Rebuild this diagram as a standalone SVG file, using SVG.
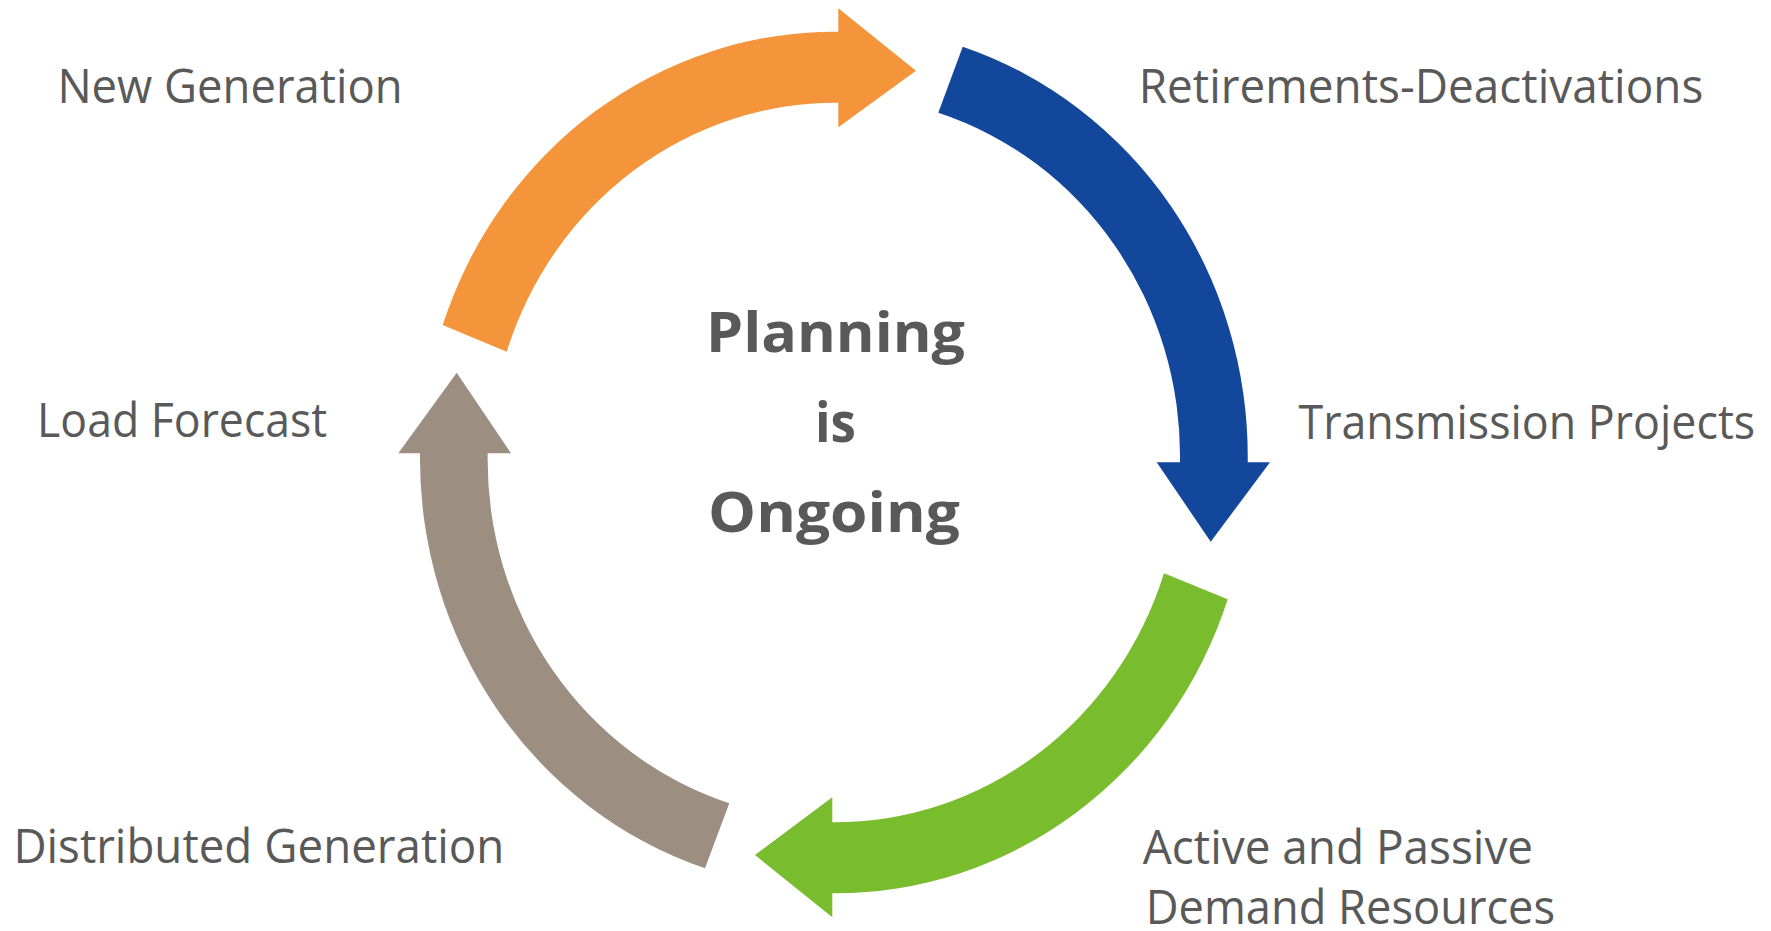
<svg xmlns="http://www.w3.org/2000/svg" width="1771" height="931" viewBox="0 0 1771 931">
<style>
.lbl{font-family:"Open Sans","Liberation Sans",sans-serif;font-size:47px;fill:#595959}
.ctr{font-family:"Open Sans","Liberation Sans",sans-serif;font-size:56px;font-weight:bold;fill:#595959;text-anchor:middle}
</style>
<rect width="1771" height="931" fill="#ffffff"/>
<g id="connectors">
<path id="arrow-orange" fill="#F4943B" d="M442.7,325 A414,431 0 0 1 838.3,31.7 L838.3,8.3 L916,70.7 L838.3,127.3 L838.3,102.7 A346,360 0 0 0 506.7,351.7 Z"/>
<path id="arrow-blue" fill="#13479C" d="M962.7,46.7 A414,431 0 0 1 1247.7,462.3 L1270,462.3 L1210.7,541.7 L1156.7,462.3 L1180,462.3 A346,360 0 0 0 938.3,112.7 Z"/>
<path id="arrow-green" fill="#79BC2D" d="M1227.7,599.3 A414,431 0 0 1 832.3,893.3 L832.3,917.3 L755,855 L832.3,797.3 L832.3,822.3 A346,360 0 0 0 1164,573.3 Z"/>
<path id="arrow-gray" fill="#9C8F82" d="M705,868.3 A414,431 0 0 1 420,453.3 L398.3,453.3 L456.7,372.7 L511,453.3 L487.7,453.3 A346,360 0 0 0 729.3,803.3 Z"/>
</g>
<g id="center">
<text class="ctr" x="835.5" y="351.7" textLength="259" lengthAdjust="spacingAndGlyphs">Planning</text>
<text class="ctr" x="835.5" y="441.7" textLength="41" lengthAdjust="spacingAndGlyphs">is</text>
<text class="ctr" x="834" y="531.7" textLength="252" lengthAdjust="spacingAndGlyphs">Ongoing</text>
</g>
<g id="new-generation"><text class="lbl" x="57.4" y="102.5" textLength="345.2" lengthAdjust="spacingAndGlyphs">New Generation</text></g>
<g id="retirements"><text class="lbl" x="1138.7" y="102.5" textLength="564.6" lengthAdjust="spacingAndGlyphs">Retirements-Deactivations</text></g>
<g id="transmission"><text class="lbl" x="1298.5" y="438.5" textLength="456.7" lengthAdjust="spacingAndGlyphs">Transmission Projects</text></g>
<g id="load-forecast"><text class="lbl" x="37.1" y="437" textLength="290.1" lengthAdjust="spacingAndGlyphs">Load Forecast</text></g>
<g id="distributed-generation"><text class="lbl" x="13.4" y="863" textLength="490.9" lengthAdjust="spacingAndGlyphs">Distributed Generation</text></g>
<g id="demand-resources">
<text class="lbl" x="1142.8" y="864" textLength="390.3" lengthAdjust="spacingAndGlyphs">Active and Passive</text>
<text class="lbl" x="1145.7" y="924" textLength="409.4" lengthAdjust="spacingAndGlyphs">Demand Resources</text>
</g>
</svg>
